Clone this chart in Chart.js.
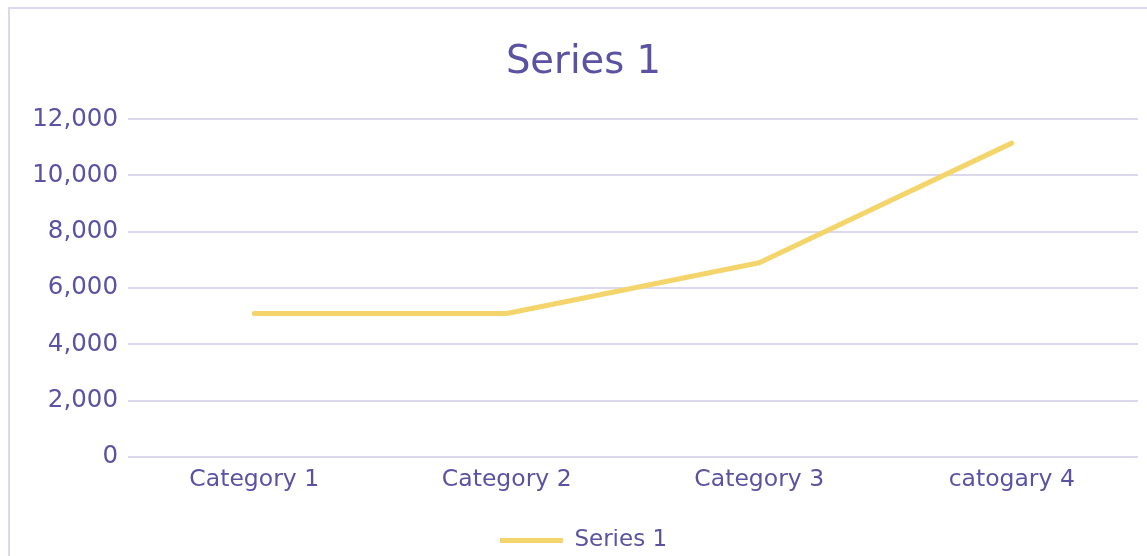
<!DOCTYPE html>
<html>
<head>
<meta charset="utf-8">
<script src="https://cdn.jsdelivr.net/npm/chart.js@4.4.1/dist/chart.umd.min.js"></script>
<style>
  html, body { margin: 0; padding: 0; background: #fff; overflow: hidden; }
  #frame { position: absolute; left: 8px; top: 7px; width: 1300px; height: 700px; border: 2px solid #dcd9ee; box-sizing: border-box; }
  #wrap { position: absolute; left: 0; top: 0; width: 1147px; height: 556px; }
</style>
</head>
<body>
<div id="frame"></div>
<div id="wrap"><canvas id="c" width="1147" height="556"></canvas></div>
<script>
const categories = ["Category 1", "Category 2", "Category 3", "catogary 4"];
const seriesName = "Series 1";
const seriesValues = [5100, 5100, 6900, 11150];
const yTicks = [0, 2000, 4000, 6000, 8000, 10000, 12000];

const textColor = "#5b52a2";
const gridColor = "#dcd9ee";
const lineColor = "#f3d56c";
const fontFamily = "'DejaVu Sans', sans-serif";

new Chart(document.getElementById("c"), {
  type: "line",
  data: {
    labels: categories,
    datasets: [{
      label: seriesName,
      data: seriesValues,
      borderColor: lineColor,
      backgroundColor: lineColor,
      borderWidth: 5,
      borderCapStyle: "round",
      borderJoinStyle: "round",
      pointRadius: 0,
      pointHoverRadius: 0,
      pointStyle: "line",
      tension: 0,
      fill: false
    }]
  },
  options: {
    responsive: false,
    animation: false,
    devicePixelRatio: 1,
    layout: { padding: { left: 29, right: 9, top: 0, bottom: -6 } },
    plugins: {
      title: {
        display: true,
        text: seriesName,
        color: textColor,
        font: { family: fontFamily, size: 38.5, weight: "normal" },
        padding: { top: 40, bottom: 33 }
      },
      legend: {
        display: true,
        position: "bottom",
        labels: {
          color: textColor,
          font: { family: fontFamily, size: 23 },
          usePointStyle: true,
          pointStyleWidth: 63,
          padding: 0
        }
      },
      tooltip: { enabled: false }
    },
    scales: {
      x: {
        offset: true,
        afterFit: (s) => { s.height = 72; },
        grid: { display: false, drawTicks: false },
        border: { display: false },
        ticks: { color: textColor, font: { family: fontFamily, size: 23.5 }, padding: 9, maxRotation: 0 }
      },
      y: {
        min: 0,
        max: 12000,
        afterFit: (s) => { s.width = 99; },
        afterBuildTicks: (s) => { s.ticks = yTicks.map(v => ({ value: v })); },
        grid: { color: gridColor, lineWidth: 2, drawTicks: false },
        border: { display: false },
        ticks: {
          color: textColor,
          font: { family: fontFamily, size: 24.5 },
          padding: 10,
          callback: (v) => Number(v).toLocaleString("en-US")
        }
      }
    }
  }
});
</script>
</body>
</html>
